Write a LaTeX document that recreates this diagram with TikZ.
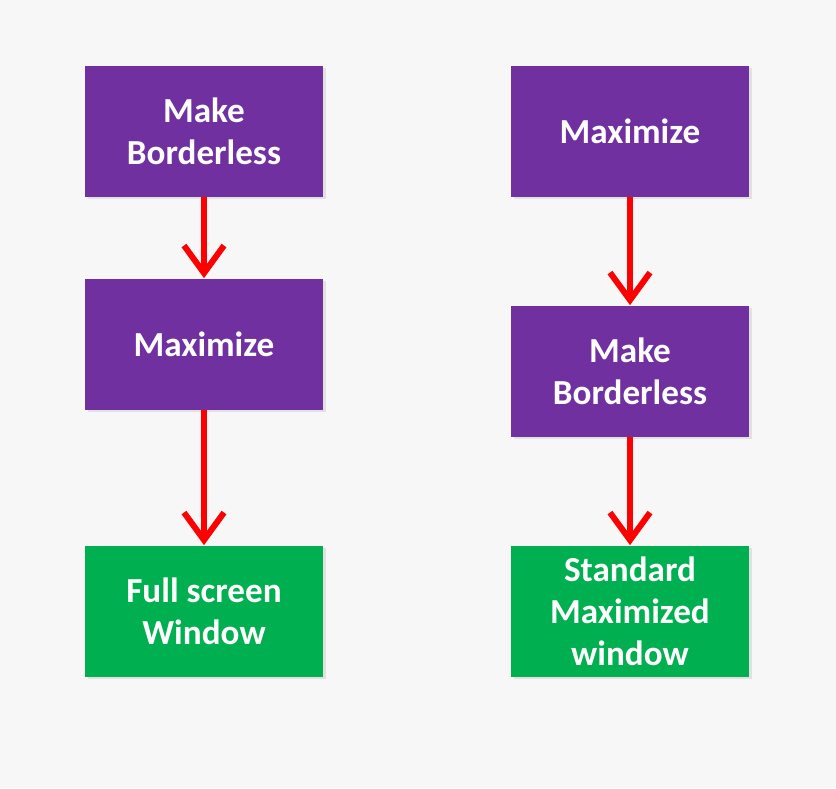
\documentclass[tikz,border=0pt]{standalone}
\usepackage{fontspec}
\setmainfont{Carlito}
\usetikzlibrary{arrows.meta,shadows}
\definecolor{stepviolet}{HTML}{7030A0}
\definecolor{stepgreen}{HTML}{00B050}
\definecolor{bgpaper}{HTML}{F7F7F7}
\begin{document}
\begin{tikzpicture}[every node/.style={font=\bfseries\fontsize{20}{24}\selectfont,text=white},
  box/.style={minimum width=4.76cm,minimum height=2.62cm,align=center,inner sep=0pt,
    drop shadow={opacity=0.18,shadow xshift=1.5pt,shadow yshift=-1.5pt}},
  act/.style={box,fill=stepviolet},
  res/.style={box,fill=stepgreen},
  flow/.style={-{Straight Barb[length=0.55cm,width=0.8cm,line width=0.12cm]},line width=0.12cm,red}]
\fill[bgpaper] (0,0) rectangle (16.72,-15.76);
\useasboundingbox (0,0) rectangle (16.72,-15.76);
% full screen order
\node[act] (lborder) at (4.08,-2.62) {Make\\Borderless};
\node[act] (lmax) at (4.08,-6.88) {Maximize};
\node[res] (lfull) at (4.08,-12.22) {Full screen\\Window};
% standard order
\node[act] (rmax) at (12.60,-2.62) {Maximize};
\node[act] (rborder) at (12.60,-7.42) {Make\\Borderless};
\node[res] (rstd) at (12.60,-12.22) {Standard\\Maximized\\window};
\draw[flow] (lborder) -- (lmax);
\draw[flow] (lmax) -- (lfull);
\draw[flow] (rmax) -- (rborder);
\draw[flow] (rborder) -- (rstd);
\end{tikzpicture}
\end{document}
